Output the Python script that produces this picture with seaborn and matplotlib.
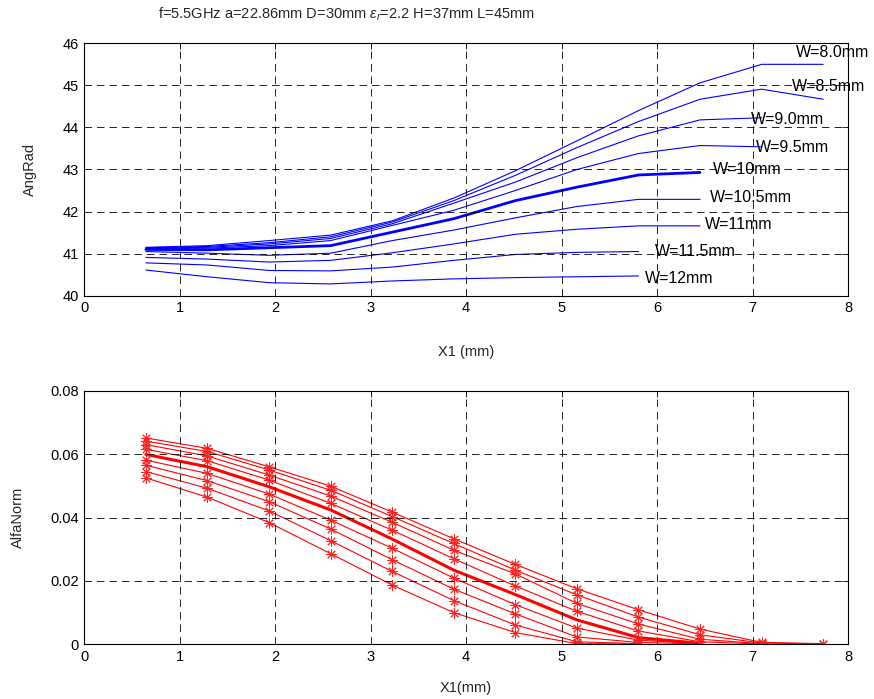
import matplotlib
matplotlib.use("Agg")
import matplotlib.pyplot as plt
import seaborn as sns
import pandas as pd

# ---------------- data ----------------
x1 = [0.645, 1.29, 1.935, 2.58, 3.225, 3.87, 4.515, 5.16, 5.805, 6.45, 7.095, 7.74]
w_labels = ["W=8.0mm", "W=8.5mm", "W=9.0mm", "W=9.5mm", "W=10mm",
            "W=10.5mm", "W=11mm", "W=11.5mm", "W=12mm"]

ang_w80 = [41.15, 41.19, 41.31, 41.44, 41.78, 42.32, 42.97, 43.68, 44.40, 45.06, 45.50, 45.50]
ang_w85 = [41.14, 41.17, 41.26, 41.40, 41.75, 42.26, 42.86, 43.52, 44.14, 44.67, 44.91, 44.67]
ang_w90 = [41.13, 41.15, 41.23, 41.36, 41.71, 42.20, 42.70, 43.28, 43.80, 44.18, 44.23]
ang_w95 = [41.12, 41.13, 41.19, 41.31, 41.67, 42.03, 42.50, 43.00, 43.38, 43.57, 43.54]
ang_w100 = [41.10, 41.09, 41.14, 41.19, 41.51, 41.83, 42.26, 42.58, 42.87, 42.93]
ang_w105 = [41.05, 41.01, 40.96, 41.01, 41.31, 41.56, 41.85, 42.12, 42.29, 42.29]
ang_w110 = [40.91, 40.87, 40.80, 40.84, 41.02, 41.23, 41.46, 41.58, 41.66, 41.66]
ang_w115 = [40.78, 40.73, 40.60, 40.59, 40.68, 40.84, 40.98, 41.03, 41.05]
ang_w120 = [40.61, 40.45, 40.31, 40.28, 40.35, 40.40, 40.43, 40.45, 40.47]

alf_w80 = [0.0651, 0.0618, 0.0560, 0.0499, 0.0417, 0.0333, 0.0252, 0.0175, 0.0109, 0.0048, 0.0006, 0.0002]
alf_w85 = [0.0641, 0.0608, 0.0550, 0.0486, 0.0403, 0.0318, 0.0234, 0.0156, 0.0086, 0.0030, 0.0004, 0.0001]
alf_w90 = [0.0630, 0.0594, 0.0534, 0.0468, 0.0385, 0.0297, 0.0222, 0.0129, 0.0064, 0.0016, 0.0002]
alf_w95 = [0.0615, 0.0579, 0.0518, 0.0445, 0.0360, 0.0270, 0.0184, 0.0104, 0.0042, 0.0008, 0.0001]
alf_w100 = [0.0599, 0.0560, 0.0497, 0.0424, 0.0332, 0.0234, 0.0157, 0.0077, 0.0021, 0.0003]
alf_w105 = [0.0581, 0.0539, 0.0474, 0.0392, 0.0303, 0.0209, 0.0125, 0.0051, 0.0013, 0.0002]
alf_w110 = [0.0565, 0.0516, 0.0450, 0.0364, 0.0267, 0.0174, 0.0096, 0.0023, 0.0006, 0.0001]
alf_w115 = [0.0545, 0.0492, 0.0421, 0.0327, 0.0230, 0.0138, 0.0061, 0.0008, 0.0002]
alf_w120 = [0.0525, 0.0464, 0.0384, 0.0286, 0.0187, 0.0100, 0.0037, 0.0002, 0.0001]

ang_series = [ang_w80, ang_w85, ang_w90, ang_w95, ang_w100, ang_w105, ang_w110, ang_w115, ang_w120]
alf_series = [alf_w80, alf_w85, alf_w90, alf_w95, alf_w100, alf_w105, alf_w110, alf_w115, alf_w120]

# label anchor positions (x, y) in data coords for the top panel
label_pos = [(7.45, 45.78), (7.41, 44.97), (6.98, 44.20), (7.04, 43.53), (6.58, 42.99),
             (6.55, 42.33), (6.50, 41.70), (5.98, 41.05), (5.87, 40.40)]

# ---------------- style ----------------
sns.set_theme(style="white")
plt.rcParams["font.family"] = ["Liberation Sans", "DejaVu Sans"]
plt.rcParams["mathtext.fontset"] = "custom"
plt.rcParams["mathtext.rm"] = "Liberation Sans"
plt.rcParams["mathtext.it"] = "Liberation Sans:italic"

W, H = 874, 699
fig = plt.figure(figsize=(W / 100, H / 100), dpi=100)
fig.patch.set_facecolor("white")

def px_axes(left, top, right, bottom):
    return fig.add_axes([left / W, 1 - bottom / H, (right - left) / W, (bottom - top) / H])

ax1 = px_axes(84.3, 43.3, 848, 295.7)
ax2 = px_axes(84.3, 390.7, 848, 644.3)

def style_axes(ax):
    ax.set_facecolor("white")
    for s in ax.spines.values():
        s.set_visible(True)
        s.set_color("black")
        s.set_linewidth(0.8)
    ax.grid(True, color="black", linestyle=(0, (9, 6)), linewidth=0.6)
    ax.set_axisbelow(False)
    ax.tick_params(direction="in", length=4, width=0.6, colors="black",
                   top=True, right=True, labelsize=10.5, pad=4)
    ax.set_xlim(0, 8)
    ax.set_xticks(range(0, 9))

# ---- top panel ----
for i, ys in enumerate(ang_series):
    df = pd.DataFrame({"x": x1[:len(ys)], "y": ys})
    thick = (i == 4)
    sns.lineplot(data=df, x="x", y="y", ax=ax1, color="#0000ff",
                 linewidth=2.0 if thick else 0.8, estimator=None, sort=False,
                 legend=False)
    lx, ly = label_pos[i]
    ax1.text(lx, ly, w_labels[i], fontsize=11.5, va="center", ha="left", color="black")

style_axes(ax1)
ax1.set_ylim(40, 46)
ax1.set_yticks(range(40, 47))
ax1.set_xlabel("X1 (mm)", fontsize=10.5)
ax1.set_ylabel("AngRad", fontsize=10.5)
ax1.xaxis.set_label_coords(0.5, -0.223)
ax1.yaxis.set_label_coords(-0.071, 0.5)
ax1.xaxis.label.set_va("center")
ax1.yaxis.label.set_va("center")

# ---- bottom panel ----
for i, ys in enumerate(alf_series):
    df = pd.DataFrame({"x": x1[:len(ys)], "y": ys})
    thick = (i == 4)
    if thick:
        sns.lineplot(data=df, x="x", y="y", ax=ax2, color="#ff0000", linewidth=2.2,
                     estimator=None, sort=False, legend=False)
    else:
        sns.lineplot(data=df, x="x", y="y", ax=ax2, color="#ff0000", linewidth=0.8,
                     marker=(8, 2, 0), markersize=7.5, markeredgewidth=0.7,
                     markeredgecolor="#ff2020", estimator=None, sort=False, legend=False)

style_axes(ax2)
ax2.set_ylim(0, 0.08)
ax2.set_yticks([0, 0.02, 0.04, 0.06, 0.08])
ax2.set_yticklabels(["0", "0.02", "0.04", "0.06", "0.08"])
ax2.set_xlabel("X1(mm)", fontsize=10.5)
ax2.set_ylabel("AlfaNorm", fontsize=10.5)
ax2.xaxis.set_label_coords(0.5, -0.172)
ax2.yaxis.set_label_coords(-0.087, 0.5)
ax2.xaxis.label.set_va("center")
ax2.yaxis.label.set_va("center")

fig.text(158 / W, 1 - 14 / H,
         r"f=5.5GHz a=22.86mm D=30mm $\epsilon_r$=2.2 H=37mm L=45mm",
         fontsize=10.5, ha="left", va="center")

fig.savefig("out.png", dpi=100, facecolor="white")
